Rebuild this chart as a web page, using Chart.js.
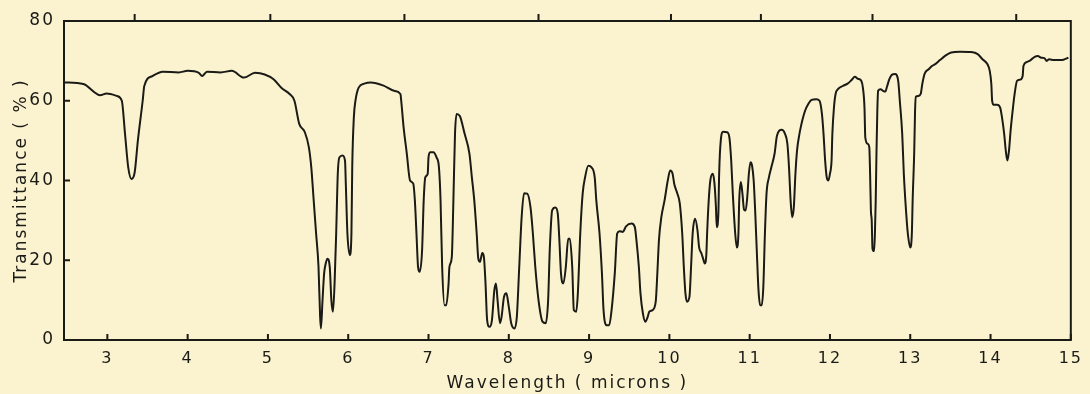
<!DOCTYPE html>
<html>
<head>
<meta charset="utf-8">
<script src="https://cdn.jsdelivr.net/npm/chart.js@4.4.0/dist/chart.umd.min.js"></script>
<style>
  html, body { margin: 0; padding: 0; background: #fbf3cf; }
</style>
</head>
<body>
<canvas id="spectrum" width="1090" height="394"></canvas>
<script>
// IR spectrum
const wavelength = [
  2.46, 2.70, 2.87, 2.91, 2.99, 3.12, 3.18, 3.22, 3.26, 3.30, 3.34, 3.38, 3.44, 3.46, 3.56, 3.69, 3.89, 4.00,
  4.14, 4.18, 4.24, 4.41, 4.55, 4.70, 4.84, 4.96,
  5.07, 5.17, 5.27, 5.33, 5.39, 5.46, 5.51, 5.54, 5.57, 5.60, 5.63, 5.65, 5.66, 5.68, 5.70, 5.72, 5.74, 5.77,
  5.79, 5.81, 5.83, 5.85, 5.87, 5.89, 5.93, 5.96, 5.97, 5.99, 6.02, 6.04, 6.05, 6.07, 6.09, 6.13, 6.20, 6.28,
  6.44, 6.57, 6.65, 6.66, 6.69, 6.73, 6.77, 6.81, 6.83, 6.85, 6.87, 6.89, 6.92, 6.94, 6.96, 6.99, 7.00, 7.02,
  7.06, 7.10, 7.13, 7.15, 7.17, 7.20, 7.22, 7.25, 7.26, 7.29, 7.31, 7.33, 7.35, 7.39, 7.45, 7.51, 7.54, 7.57,
  7.60, 7.62, 7.64, 7.67, 7.69, 7.71, 7.73, 7.76, 7.79, 7.82, 7.84, 7.86, 7.89, 7.91, 7.94, 7.97, 8.00, 8.03,
  8.07, 8.10, 8.13, 8.16, 8.19, 8.23, 8.27, 8.30, 8.33, 8.37, 8.42, 8.46, 8.49, 8.51, 8.54, 8.58, 8.61, 8.63,
  8.65, 8.68, 8.71, 8.74, 8.76, 8.79, 8.81, 8.84, 8.86, 8.89, 8.92, 8.95, 8.99, 9.03, 9.07, 9.09, 9.13, 9.16,
  9.18, 9.22, 9.25, 9.28, 9.32, 9.35, 9.38, 9.42, 9.46, 9.53, 9.57, 9.59, 9.62, 9.64, 9.67, 9.70, 9.73, 9.75,
  9.79, 9.83, 9.85, 9.87, 9.90, 9.94, 9.98, 10.01, 10.04, 10.06, 10.10, 10.13, 10.16, 10.18, 10.20, 10.22,
  10.25, 10.27, 10.29, 10.32, 10.35, 10.37, 10.40, 10.42, 10.44, 10.46, 10.47, 10.49, 10.51, 10.54, 10.56,
  10.58, 10.59, 10.61, 10.62, 10.64, 10.67, 10.72, 10.75, 10.77, 10.79, 10.82, 10.84, 10.86, 10.87, 10.89,
  10.91, 10.93, 10.95, 10.97, 10.99, 11.01, 11.03, 11.05, 11.07, 11.09, 11.11, 11.13, 11.15, 11.17, 11.19,
  11.21, 11.24, 11.27, 11.31, 11.34, 11.40, 11.44, 11.47, 11.49, 11.51, 11.53, 11.55, 11.57, 11.59, 11.62,
  11.64, 11.66, 11.69, 11.73, 11.77, 11.83, 11.87, 11.90, 11.92, 11.94, 11.96, 11.98, 12.00, 12.02, 12.03,
  12.05, 12.07, 12.10, 12.16, 12.22, 12.27, 12.31, 12.35, 12.39, 12.41, 12.43, 12.44, 12.47, 12.49, 12.50,
  12.51, 12.52, 12.53, 12.55, 12.56, 12.57, 12.58, 12.59, 12.60, 12.63, 12.66, 12.69, 12.71, 12.74, 12.77,
  12.81, 12.85, 12.87, 12.90, 12.92, 12.95, 12.97, 13.00, 13.02, 13.03, 13.05, 13.06, 13.07, 13.10, 13.13,
  13.15, 13.18, 13.23, 13.27, 13.32, 13.37, 13.43, 13.51, 13.62, 13.76, 13.84, 13.90, 13.96, 13.99, 14.01,
  14.02, 14.04, 14.08, 14.12, 14.14, 14.17, 14.19, 14.21, 14.23, 14.25, 14.28, 14.30, 14.33, 14.37, 14.40,
  14.41, 14.45, 14.50, 14.55, 14.59, 14.63, 14.67, 14.70, 14.73, 14.79, 14.85, 14.91, 14.97
];

const transmittance = [
  64.6, 64.2, 61.7, 61.4, 61.8, 61.2, 60.0, 51.7, 43.3, 40.4, 42.0, 50.0, 60.0, 63.7, 66.2, 67.3, 67.1, 67.5,
  67.0, 66.2, 67.3, 67.1, 67.5, 65.8, 67.0, 66.6,
  65.4, 63.2, 61.7, 60.0, 54.2, 52.1, 48.3, 43.3, 35.0, 26.7, 18.3, 5.8, 2.9, 10.0, 16.7, 19.2, 20.4, 18.3,
  10.0, 7.1, 14.2, 26.7, 41.7, 45.8, 46.3, 45.0, 39.2, 26.7, 21.3, 26.7, 43.3, 55.8, 60.0, 63.3, 64.3, 64.6,
  63.8, 62.5, 61.7, 60.0, 53.3, 46.7, 40.0, 39.2, 35.0, 26.7, 18.3, 17.1, 22.5, 35.0, 40.8, 41.7, 45.8, 47.1,
  47.1, 45.8, 43.3, 35.0, 18.3, 8.7, 8.7, 14.2, 18.3, 20.8, 35.0, 51.7, 56.7, 56.2, 51.7, 46.7, 40.8, 35.0,
  26.7, 20.4, 19.6, 21.8, 20.8, 14.2, 5.0, 3.3, 5.0, 12.5, 14.2, 10.0, 4.2, 5.8, 10.8, 11.7, 8.3, 4.2,
  2.9, 5.8, 18.3, 30.8, 36.8, 36.7, 33.3, 26.7, 18.3, 10.0, 4.6, 4.2, 10.0, 22.5, 32.5, 33.2, 31.7, 25.0,
  16.7, 14.2, 18.3, 25.4, 25.4, 18.3, 7.5, 7.1, 11.7, 26.7, 36.7, 40.8, 43.7, 43.3, 40.8, 35.0, 26.7, 16.7,
  7.5, 3.7, 3.7, 7.5, 16.7, 26.7, 27.3, 27.1, 28.5, 29.2, 28.3, 25.0, 18.3, 11.7, 6.7, 4.6, 5.8, 7.1,
  7.5, 9.6, 16.7, 25.0, 30.8, 35.0, 40.0, 42.5, 41.7, 39.2, 36.7, 34.2, 26.7, 18.3, 11.7, 9.6,
  10.8, 18.3, 26.7, 30.4, 27.5, 23.3, 21.7, 20.4, 19.2, 21.3, 26.7, 35.0, 40.0, 41.7, 39.6,
  33.3, 28.3, 31.7, 41.7, 50.0, 52.2, 52.1, 50.4, 45.0, 36.7, 26.7, 23.2, 26.7, 35.0, 39.6,
  36.7, 32.7, 32.5, 35.8, 41.7, 44.6, 43.7, 40.0, 31.7, 21.7, 12.5, 8.7, 8.7, 13.3, 26.7,
  36.7, 40.8, 43.3, 46.7, 51.2, 52.7, 51.7, 49.2, 43.3, 35.0, 30.8, 33.3, 41.7, 47.5, 51.7,
  53.7, 55.4, 57.5, 59.2, 60.2, 60.4, 60.0, 56.7, 51.7, 45.0, 40.8, 40.0, 41.7, 45.0, 51.7,
  58.3, 61.7, 62.9, 63.7, 64.3, 65.2, 66.0, 65.5, 65.0, 63.3, 58.3, 50.8, 49.2, 48.3, 41.7,
  32.5, 30.0, 22.9, 22.3, 26.7, 35.0, 47.5, 57.5, 62.5, 62.9, 62.5, 62.3, 63.5, 65.4, 66.5,
  66.7, 65.0, 60.0, 51.7, 41.7, 31.7, 26.7, 23.2, 26.7, 35.0, 47.5, 57.5, 61.0, 61.2, 61.7,
  64.2, 66.8, 67.9, 68.7, 69.3, 70.2, 71.2, 72.1, 72.3, 72.2, 71.7, 70.4, 69.2, 67.5, 64.2,
  60.0, 59.0, 59.0, 58.3, 56.2, 51.7, 47.5, 45.0, 47.5, 52.5, 58.3, 61.7, 65.0, 65.3, 66.2,
  68.7, 69.7, 70.2, 71.0, 71.2, 70.8, 70.7, 70.0, 70.4, 70.2, 70.2, 70.3, 70.8
];

const xTicks = [3, 4, 5, 6, 7, 8, 9, 10, 11, 12, 13, 14, 15];
const yTicks = [0, 20, 40, 60, 80];
// reading marks on the top edge of the frame
const topMarks = [3.34, 5.03, 6.70, 8.37, 10.02, 11.14, 12.53, 14.32];

const INK = "#1a1a16";
const PAPER = "#fbf3cf";
const FONT = "'DejaVu Sans', sans-serif";

// paper colour, frame, inward ticks and the top reading marks
const frame = {
  id: "frame",
  beforeDraw(chart) {
    const ctx = chart.ctx;
    ctx.save();
    ctx.fillStyle = PAPER;
    ctx.fillRect(0, 0, chart.width, chart.height);
    ctx.restore();
    ctx.letterSpacing = "2px";
  },
  afterDraw(chart) {
    const { ctx, chartArea: a, scales } = chart;
    ctx.save();
    ctx.strokeStyle = INK;
    ctx.lineWidth = 2;
    ctx.strokeRect(a.left, a.top, a.right - a.left, a.bottom - a.top);
    ctx.beginPath();
    scales.x.ticks.forEach(t => {
      const px = scales.x.getPixelForValue(t.value);
      ctx.moveTo(px, a.bottom);
      ctx.lineTo(px, a.bottom - 6);
    });
    scales.y.ticks.forEach(t => {
      const py = scales.y.getPixelForValue(t.value);
      ctx.moveTo(a.left, py);
      ctx.lineTo(a.left + 6, py);
    });
    topMarks.forEach(v => {
      const px = scales.x.getPixelForValue(v);
      ctx.moveTo(px, a.top);
      ctx.lineTo(px, a.top - 7);
    });
    ctx.stroke();
    ctx.restore();
    ctx.letterSpacing = "0px";
  },
};

new Chart(document.getElementById("spectrum"), {
  type: "line",
  data: {
    datasets: [{
      data: wavelength.map((w, i) => ({ x: w, y: transmittance[i] })),
      borderColor: INK,
      borderWidth: 2,
      pointRadius: 0,
      cubicInterpolationMode: "monotone",
      fill: false,
    }],
  },
  options: {
    responsive: false,
    animation: false,
    layout: { padding: { left: 0, right: 12, top: 21, bottom: 0 } },
    plugins: { legend: { display: false }, tooltip: { enabled: false } },
    scales: {
      x: {
        type: "linear",
        position: "bottom",
        min: 2.46,
        max: 15,
        afterBuildTicks: s => { s.ticks = xTicks.map(v => ({ value: v })); },
        afterFit: s => { s.height = 54; },
        grid: { display: false, drawTicks: false },
        border: { display: false },
        ticks: { color: INK, font: { family: FONT, size: 16 }, padding: 9, maxRotation: 0, autoSkip: false },
        title: {
          display: true,
          text: "Wavelength ( microns )",
          color: INK,
          font: { family: FONT, size: 17 },
          padding: { top: 0, bottom: 0 },
        },
      },
      y: {
        min: 0,
        max: 80,
        afterBuildTicks: s => { s.ticks = yTicks.map(v => ({ value: v })); },
        afterFit: s => { s.width = 64; },
        grid: { display: false, drawTicks: false },
        border: { display: false },
        ticks: { color: INK, font: { family: FONT, size: 17 }, padding: 9 },
        title: {
          display: true,
          text: "Transmittance ( % )",
          color: INK,
          font: { family: FONT, size: 17 },
          padding: { top: 11, bottom: 0 },
        },
      },
    },
  },
  plugins: [frame],
});
</script>
</body>
</html>
